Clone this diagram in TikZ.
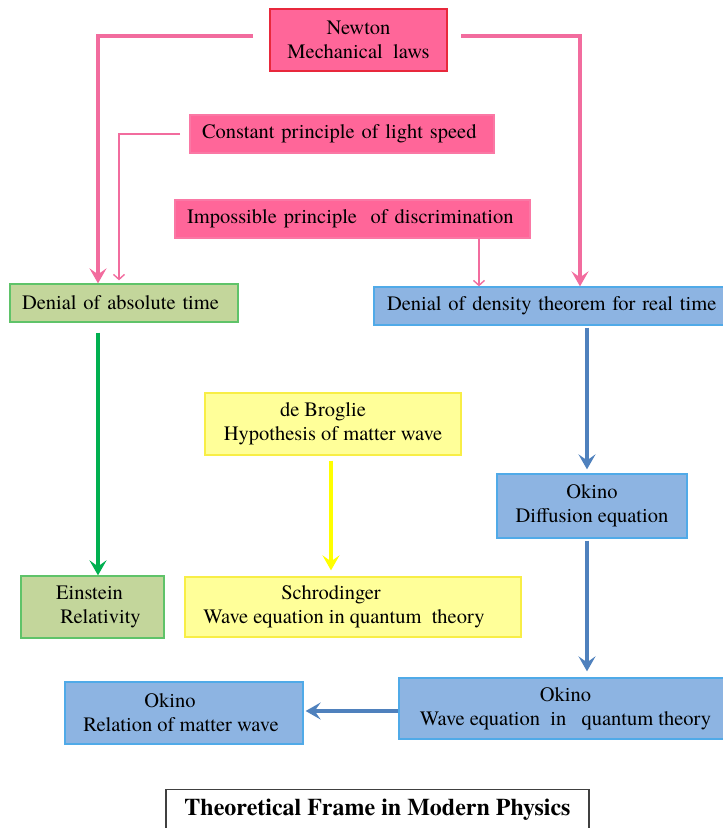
\documentclass[tikz,border=0pt]{standalone}
\usepackage{fontspec}
\IfFontExistsTF{texgyretermes-regular.otf}
  {\setmainfont{texgyretermes}[Extension=.otf, UprightFont=*-regular, BoldFont=*-bold, ItalicFont=*-italic, BoldItalicFont=*-bolditalic]}
  {}
\usetikzlibrary{arrows.meta}
\definecolor{pinkF}{RGB}{255,102,153}
\definecolor{pinkD}{RGB}{250,120,165}
\definecolor{pinkA}{RGB}{242,108,158}
\definecolor{newtonD}{RGB}{232,40,60}
\definecolor{greenF}{RGB}{195,214,155}
\definecolor{greenD}{RGB}{95,195,105}
\definecolor{greenA}{RGB}{0,176,80}
\definecolor{blueF}{RGB}{141,180,226}
\definecolor{blueD}{RGB}{80,170,232}
\definecolor{blueA}{RGB}{79,129,189}
\definecolor{yellowF}{RGB}{255,255,153}
\definecolor{yellowD}{RGB}{248,238,70}
\definecolor{yellowA}{RGB}{255,255,0}
\begin{document}
\begin{tikzpicture}[x=1pt,y=-1pt,
  box/.style={rectangle, inner sep=0pt, line width=1.3pt, align=center,
    font=\fontsize{20.5}{24}\selectfont},
  pinkbox/.style={box, fill=pinkF, draw=pinkD},
  newtonbox/.style={box, fill=pinkF, draw=newtonD},
  greenbox/.style={box, fill=greenF, draw=greenD},
  bluebox/.style={box, fill=blueF, draw=blueD},
  yellowbox/.style={box, fill=yellowF, draw=yellowD},
  titlebox/.style={rectangle, draw=black!75, line width=1.2pt, fill=white, inner sep=0pt,
    font=\fontsize{24}{28}\bfseries\selectfont},
  thickarrow/.style={line width=4pt, -{Stealth[length=15pt,width=17pt,inset=6pt]}},
  thinarrow/.style={line width=1.4pt, draw=pinkA, -{Straight Barb[length=5pt,width=11pt]}},
]
\useasboundingbox (0,0) rectangle (723,828);

% boxes
\node[newtonbox, minimum width=177pt, minimum height=62pt] (newton) at (358.5,40) {Newton\\Mechanical\ \ laws};
\node[pinkbox, minimum width=304pt, minimum height=38pt, text width=280pt, align=left] (constant) at (342,134) {Constant principle of light speed};
\node[pinkbox, minimum width=355pt, minimum height=38pt, text width=331pt, align=left] (impossible) at (352.5,219) {Impossible principle\ \ of discrimination};
\node[greenbox, minimum width=228pt, minimum height=38pt, text width=204pt, align=left] (denialA) at (124,303) {Denial of absolute time};
\node[bluebox, minimum width=356pt, minimum height=38pt, text width=330pt, align=left] (denialD) at (552,306) {Denial of density theorem for real time};
\node[yellowbox, minimum width=256pt, minimum height=62pt] (broglie) at (333,424) {de Broglie\hspace*{20pt}\\Hypothesis of matter wave};
\node[bluebox, minimum width=190pt, minimum height=64pt] (diffusion) at (592,506) {Okino\\Diffusion equation};
\node[greenbox, minimum width=143pt, minimum height=62pt] (einstein) at (92.5,607) {Einstein\hspace*{6pt}\\\hspace*{16pt}Relativity};
\node[yellowbox, minimum width=336pt, minimum height=60pt] (schrod) at (353,607) {Schrodinger\hspace*{44pt}\\Wave equation in quantum\ \ theory\hspace*{18pt}};
\node[bluebox, minimum width=333pt, minimum height=61pt] (wave) at (565.5,708.5) {Okino\\Wave equation\ \ in\ \ \ quantum theory};
\node[bluebox, minimum width=238pt, minimum height=62pt] (relation) at (184,713) {Okino\hspace*{28pt}\\Relation of matter wave\hspace*{6pt}};
\node[titlebox, minimum width=423pt, text height=26pt, text depth=30pt, anchor=north] (title) at (377.5,789) {Theoretical Frame in Modern Physics};

% helper coordinates
\coordinate (xL) at (98,0);
\coordinate (xR) at (580,0);
\coordinate (xc) at (119,0);
\coordinate (xi) at (479,0);
\coordinate (xy) at (331,0);
\coordinate (xb) at (587,0);
\coordinate (yh) at (0,711);
\coordinate (nl) at (253,36);
\coordinate (nr) at (461,36);
\coordinate (cl) at (180,134);

% pink connectors
\draw[thickarrow, draw=pinkA] (nl) -| (denialA.north -| xL);
\draw[thickarrow, draw=pinkA] (nr) -| (denialD.north -| xR);
\draw[thinarrow, shorten >=3pt] (cl) -| (denialA.north -| xc);
\draw[thinarrow] (impossible.south -| xi) -- (denialD.north -| xi);

% other connectors
\draw[thickarrow, draw=greenA, shorten <=10pt] (denialA.south -| xL) -- (einstein.north -| xL);
\draw[thickarrow, draw=blueA, shorten <=2pt, shorten >=4pt] (denialD.south -| xb) -- (diffusion.north -| xb);
\draw[thickarrow, draw=yellowA, line width=3.5pt, shorten <=5pt, shorten >=6pt] (broglie.south -| xy) -- (schrod.north -| xy);
\draw[thickarrow, draw=blueA, shorten <=2pt, shorten >=6pt] (diffusion.south -| xb) -- (wave.north -| xb);
\draw[thickarrow, draw=blueA, shorten >=2pt] (wave.west |- yh) -- (relation.east |- yh);
\end{tikzpicture}
\end{document}
